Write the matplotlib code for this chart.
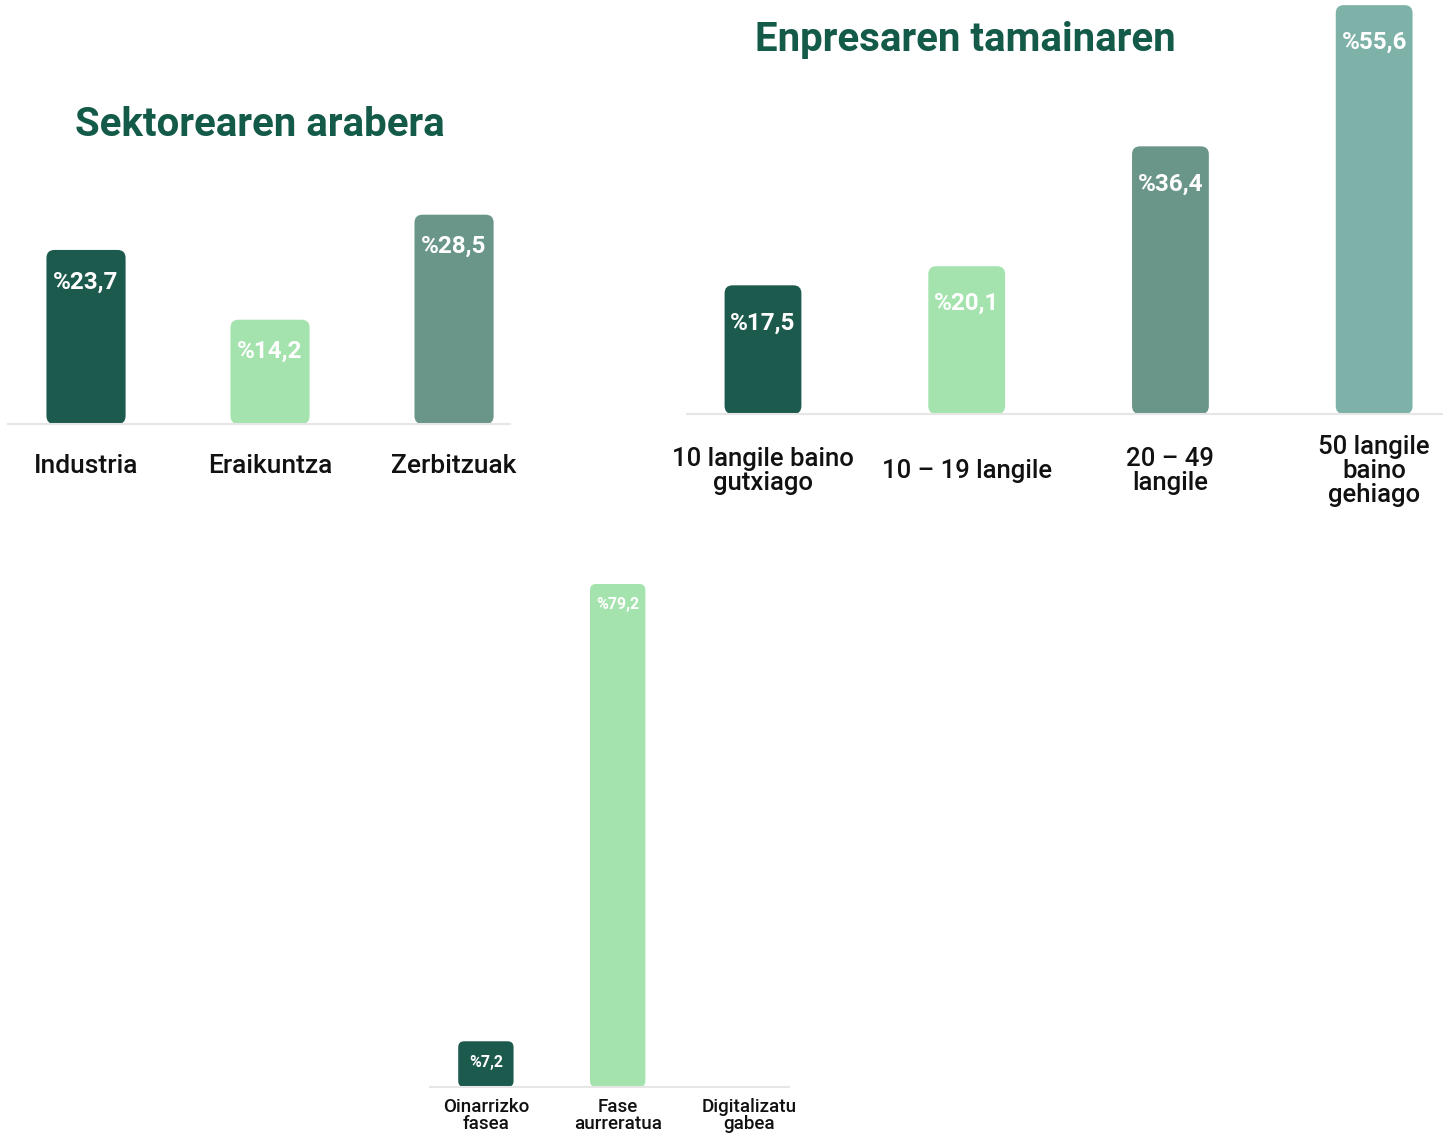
import numpy as np
import matplotlib
matplotlib.use("Agg")
import matplotlib.pyplot as plt
from matplotlib.patches import FancyBboxPatch

plt.rcParams['font.family'] = ['Roboto', 'DejaVu Sans']

# ----------------------------------------------------------------------
# Data
# ----------------------------------------------------------------------
sector_labels = ['Industria', 'Eraikuntza', 'Zerbitzuak']
sector_values = [23.7, 14.2, 28.5]

size_labels = ['10 langile baino\ngutxiago', '10 – 19 langile',
               '20 – 49\nlangile', '50 langile\nbaino\ngehiago']
size_values = [17.5, 20.1, 36.4, 55.6]

phase_labels = ['Oinarrizko\nfasea', 'Fase\naurreratua', 'Digitalizatu\ngabea']
phase_values = [7.2, 79.2, 0.0]

DARK = '#1c5a4d'
LIGHT = '#a4e3ad'
MID = '#6a9689'
TEAL = '#7eb2a8'
TITLE = '#145a48'

W, H = 1446, 1133
fig = plt.figure(figsize=(W / 100, H / 100), dpi=100)


def px_axes(l, t, r, b):
    return fig.add_axes([l / W, 1 - b / H, (r - l) / W, (b - t) / H])


def rounded_bars(ax, labels, values, width, colors, r_px):
    x = np.arange(len(values))
    bars = ax.bar(x, values, width=width, color=colors)
    p0 = ax.transData.transform((0, 0))
    p1 = ax.transData.transform((1, 1))
    sx, sy = p1[0] - p0[0], p1[1] - p0[1]
    for rect in bars:
        rect.set_visible(False)
        if rect.get_height() <= 0:
            continue
        ax.add_patch(FancyBboxPatch(
            (rect.get_x(), rect.get_y()), rect.get_width(), rect.get_height(),
            boxstyle=f"round,pad=0,rounding_size={r_px / sx}",
            mutation_aspect=sx / sy, fc=rect.get_facecolor(), ec='none'))
    ax.set_xticks(x)
    ax.set_xticklabels(labels, fontweight='medium', color='#111111')
    for s in ['top', 'left', 'right']:
        ax.spines[s].set_visible(False)
    ax.spines['bottom'].set_color('#e6e6e6')
    ax.spines['bottom'].set_linewidth(1.5)
    ax.tick_params(axis='x', length=0)
    ax.set_yticks([])
    return x


def value_labels(ax, x, values, off, size):
    for xi, v in zip(x, values):
        if v <= 0:
            continue
        ax.annotate(f"%{v:.1f}".replace('.', ','), xy=(xi, v),
                    xytext=(0, -off), textcoords='offset points',
                    ha='center', va='center', color='white',
                    fontsize=size, fontweight='bold')


# --- Sektorearen arabera ---
ax1 = px_axes(8, 200, 510, 424)
ax1.set_xlim(-0.424, 2.304)
ax1.set_ylim(0, 30.5)
x1 = rounded_bars(ax1, sector_labels, sector_values, 0.43, [DARK, LIGHT, MID], 8)
value_labels(ax1, x1, sector_values, 23, 17.5)
ax1.tick_params(axis='x', labelsize=19, pad=30)
for t in ax1.get_xticklabels():
    t.set_va('center')
fig.text(260 / W, 1 - 125 / H, 'Sektorearen arabera', ha='center', va='center',
         fontsize=29, fontweight='bold', color=TITLE)

# --- Enpresaren tamainaren ---
ax2 = px_axes(687, 0, 1442, 414)
ax2.set_xlim(-0.373, 3.333)
ax2.set_ylim(0, 56.3)
x2 = rounded_bars(ax2, size_labels, size_values, 0.377, [DARK, LIGHT, MID, TEAL], 8)
value_labels(ax2, x2, size_values, 27, 17.5)
ax2.tick_params(axis='x', labelsize=18.5, pad=41)
for t in ax2.get_xticklabels():
    t.set_va('center')
    t.set_linespacing(1.0)
fig.text(965 / W, 1 - 40 / H, 'Enpresaren tamainaren', ha='center', va='center',
         fontsize=29, fontweight='bold', color=TITLE)

# --- Digitalizazio fasea ---
ax3 = px_axes(430, 570, 789, 1087)
ax3.set_xlim(-0.424, 2.30)
ax3.set_ylim(0, 81.4)
x3 = rounded_bars(ax3, phase_labels, phase_values, 0.42, [DARK, LIGHT, MID], 6)
value_labels(ax3, x3, phase_values, 15, 11.5)
ax3.tick_params(axis='x', labelsize=13.5, pad=8)
for t in ax3.get_xticklabels():
    t.set_linespacing(0.95)

fig.savefig('out.png', dpi=100)
